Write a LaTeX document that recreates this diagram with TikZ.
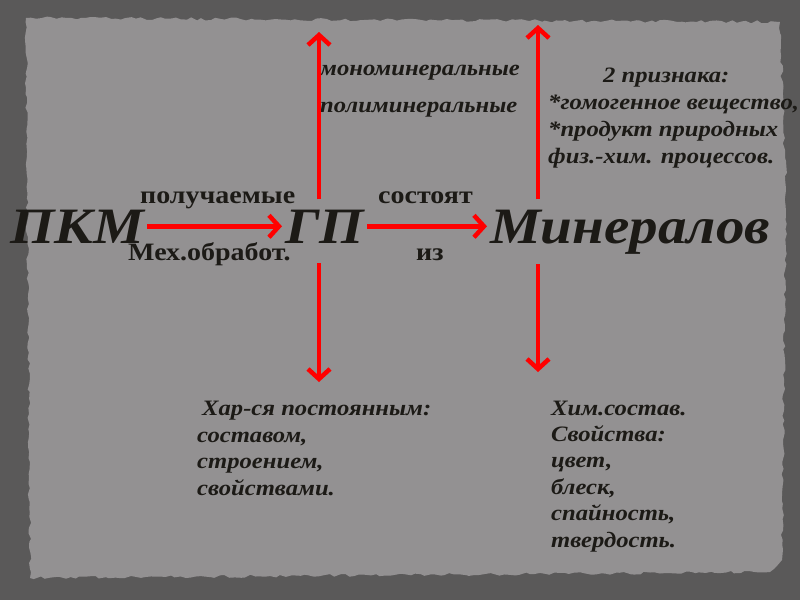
\documentclass[tikz,border=0pt]{standalone}
\usepackage{fontspec}
\setmainfont{Liberation Serif}[FakeStretch = 1.12]
\usetikzlibrary{arrows.meta}
\usetikzlibrary{decorations.pathmorphing}

\definecolor{slate}{HTML}{5A5959}
\definecolor{paper}{HTML}{939192}
\definecolor{ink}{HTML}{1C1A16}

\begin{document}
\begin{tikzpicture}[x = 1pt, y = -1pt, text = ink]
	\tikzstyle{bigStyle} = [anchor = base west, inner xsep = 3pt, inner ysep = 10pt, font = \fontsize{51}{60}\selectfont\bfseries\itshape]
	\tikzstyle{verbStyle} = [anchor = base west, inner sep = 0pt, font = \fontsize{25}{28}\selectfont\bfseries]
	\tikzstyle{noteStyle} = [anchor = base west, inner sep = 0pt, align = left, font = \fontsize{22}{26.4}\selectfont\bfseries\itshape]
	\tikzstyle{redArrow} = [draw = red, line width = 4.5pt, -{Straight Barb[length = 10pt, width = 22pt]}]
	\useasboundingbox (0,0) rectangle (800,600);
	\fill[slate] (0,0) rectangle (800,600);
	\pgfmathsetseed{7}
	\fill[paper, decorate, decoration = {random steps, segment length = 5pt, amplitude = 1.5pt}]
		(26,18) -- (780,22) -- (786,190) -- (782,560) -- (770,572) -- (30,578) -- cycle;
	\node[bigStyle] (pkm) at (7,243) {ПКМ};
	\node[bigStyle] (gp) at (282,243) {ГП};
	\node[bigStyle] (min) at (487,243) {Минералов};
	\node[verbStyle] (got) at (140,203) {получаемые};
	\node[verbStyle] (mech) at (128,260) {Мех.обработ.};
	\node[verbStyle] (consist) at (378,203) {состоят};
	\node[verbStyle] (of) at (416,260) {из};
	\node[noteStyle] (mono) at (320,75) {мономинеральные};
	\node[noteStyle] (poly) at (320,112) {полиминеральные};
	\node[noteStyle, font = \fontsize{22}{27}\selectfont\bfseries\itshape] (signs) at (548,163) {\hspace*{55pt}2 признака:\\*гомогенное вещество,\\*продукт природных\\физ.-хим. процессов.};
	\node[noteStyle] (const) at (197,495) {\hspace*{5pt}Хар-ся постоянным:\\составом,\\строением,\\свойствами.};
	\node[noteStyle] (props) at (551,547) {Хим.состав.\\Свойства:\\цвет,\\блеск,\\спайность,\\твердость.};
	\coordinate (gpUp) at (319,32);
	\coordinate (gpDown) at (319,382);
	\coordinate (minUp) at (538,25);
	\coordinate (minDown) at (538,372);
	\draw[redArrow] (pkm.east) -- (gp.west);
	\draw[redArrow] (gp.east) -- (gp.east -| min.west);
	\draw[redArrow] (gpUp |- gp.north) -- (gpUp);
	\draw[redArrow, shorten <= 10pt] (gpDown |- gp.south) -- (gpDown);
	\draw[redArrow] (minUp |- min.north) -- (minUp);
	\draw[redArrow] (minDown |- min.south) -- (minDown);
\end{tikzpicture}
\end{document}
